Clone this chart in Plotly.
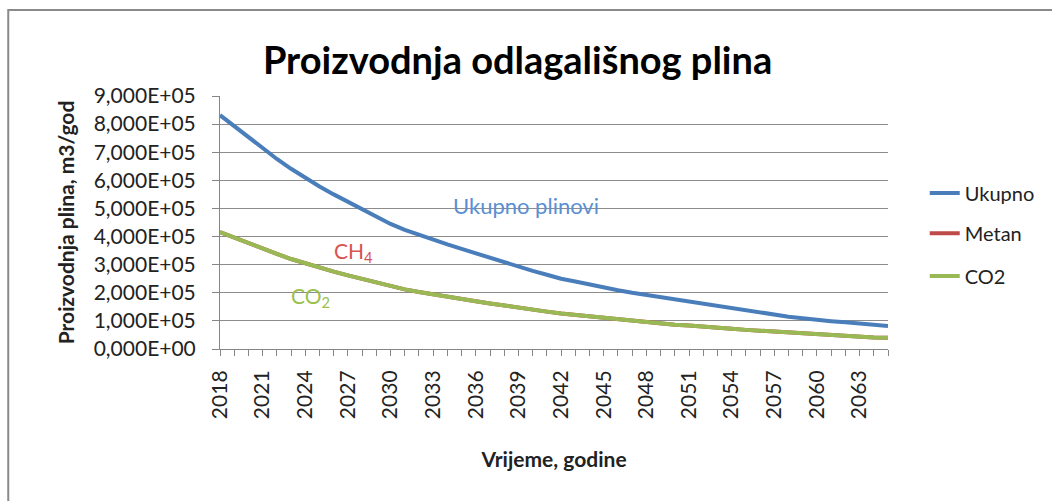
import plotly.graph_objects as go

WIDTH = 1052
HEIGHT = 501

years = list(range(2018, 2066))

ukupno = [832000, 793000, 752000, 712000, 676000, 641000, 608000, 578000,
          550000, 524000, 498000, 470000, 445000, 424000, 406000, 388000,
          372000, 356000, 340000, 324000, 308000, 292000, 278000, 264000,
          250000, 240000, 229000, 219000, 209000, 200000, 192000, 184000,
          176000, 168000, 160000, 152000, 145000, 138000, 130000, 122000,
          115000, 109000, 103000, 99000, 95000, 91000, 86000, 82000]

co2 = [416000, 396000, 376000, 356000, 338000, 320000, 304000, 289000,
       275000, 262000, 249000, 235000, 223000, 212000, 203000, 194000,
       186000, 178000, 170000, 162000, 154000, 146000, 139000, 133000,
       126000, 121000, 115000, 110000, 105000, 100000, 96000, 88000,
       86000, 84000, 79000, 75000, 72000, 68000, 65000, 62000,
       57000, 54000, 52000, 50000, 48000, 45000, 41000, 40000]

# metan has the same share as CO2 in the source table (hidden under the green line)
metan = list(co2)

y_ticks = [0, 100000, 200000, 300000, 400000, 500000, 600000, 700000, 800000, 900000]
y_tick_text = ["0,000E+00", "1,000E+05", "2,000E+05", "3,000E+05", "4,000E+05",
               "5,000E+05", "6,000E+05", "7,000E+05", "8,000E+05", "9,000E+05"]
x_labels = list(range(2018, 2066, 3))

FONT = "Lato, 'Open Sans', sans-serif"
TEXT = '#222222'
AXIS = '#868686'

fig = go.Figure()
fig.add_trace(go.Scatter(x=years, y=ukupno, mode='lines', name="Ukupno", legend='legend',
                         line=dict(color='#4A7EBB', width=4)))
fig.add_trace(go.Scatter(x=years, y=metan, mode='lines', name="Metan", legend='legend2',
                         line=dict(color='#BE4B48', width=4)))
fig.add_trace(go.Scatter(x=years, y=co2, mode='lines', name="CO2", legend='legend3',
                         line=dict(color='#98B954', width=4)))

legend_style = dict(x=1.055, xanchor='left', yanchor='middle', font=dict(size=20, color=TEXT),
                    bgcolor='rgba(0,0,0,0)', borderwidth=0)

fig.update_layout(
    title=dict(text="<b>Proizvodnja odlagališnog plina</b>", x=0.492, xanchor='center',
               yref='container', y=0.878, yanchor='middle',
               font=dict(size=38, color='black', family=FONT)),
    width=WIDTH,
    height=HEIGHT,
    margin=dict(l=220, r=160, t=96, b=152),
    plot_bgcolor='white',
    paper_bgcolor='white',
    font=dict(family=FONT, size=21, color=TEXT),
    showlegend=True,
    legend=dict(y=0.617, **legend_style),
    legend2=dict(y=0.458, **legend_style),
    legend3=dict(y=0.289, **legend_style),
)

fig.update_xaxes(
    range=[2018, 2065],
    tickmode='array', tickvals=x_labels, ticktext=[str(v) for v in x_labels],
    tickangle=-90, ticks='outside', ticklen=6, tickcolor=AXIS, ticklabelstandoff=6,
    minor=dict(dtick=1, tick0=2018, ticks='outside', ticklen=6, tickcolor=AXIS, showgrid=False),
    showline=True, linecolor=AXIS, linewidth=1, showgrid=False, zeroline=False,
    tickfont=dict(size=21, color=TEXT),
    title=dict(text="<b>Vrijeme, godine</b>", font=dict(size=21, color=TEXT), standoff=34),
)

fig.update_yaxes(
    range=[0, 900000],
    tickmode='array', tickvals=y_ticks, ticktext=y_tick_text,
    ticks='outside', ticklen=7, tickcolor=AXIS, ticklabelstandoff=12,
    showline=True, linecolor=AXIS, linewidth=1,
    showgrid=True, gridcolor='#8C8C8C', gridwidth=1, zeroline=False,
    tickfont=dict(size=21, color=TEXT),
    title=dict(text="<b>Proizvodnja plina, m3/god</b>", font=dict(size=21, color=TEXT), standoff=13),
)

fig.add_annotation(x=2039.5, y=512000, text="Ukupno plinovi", showarrow=False, xanchor='center',
                   yanchor='middle', font=dict(size=22, color='#5B8FD4'))
fig.add_annotation(x=2027.4, y=345000, text="CH<sub>4</sub>", showarrow=False, xanchor='center',
                   yanchor='middle', font=dict(size=21, color='#D9534F'))
fig.add_annotation(x=2024.4, y=185000, text="CO<sub>2</sub>", showarrow=False, xanchor='center',
                   yanchor='middle', font=dict(size=21, color='#9BC04C'))

# outer chart border (left and top edges visible in the original)
fig.add_shape(type='rect', xref='paper', yref='paper', x0=-0.317, x1=1.6, y0=-0.9, y1=1.34,
              line=dict(color='#8A8A8A', width=2), layer='below')

fig.write_html("out.html", config={'displayModeBar': False},
               post_script="document.body.style.margin='0px';")
